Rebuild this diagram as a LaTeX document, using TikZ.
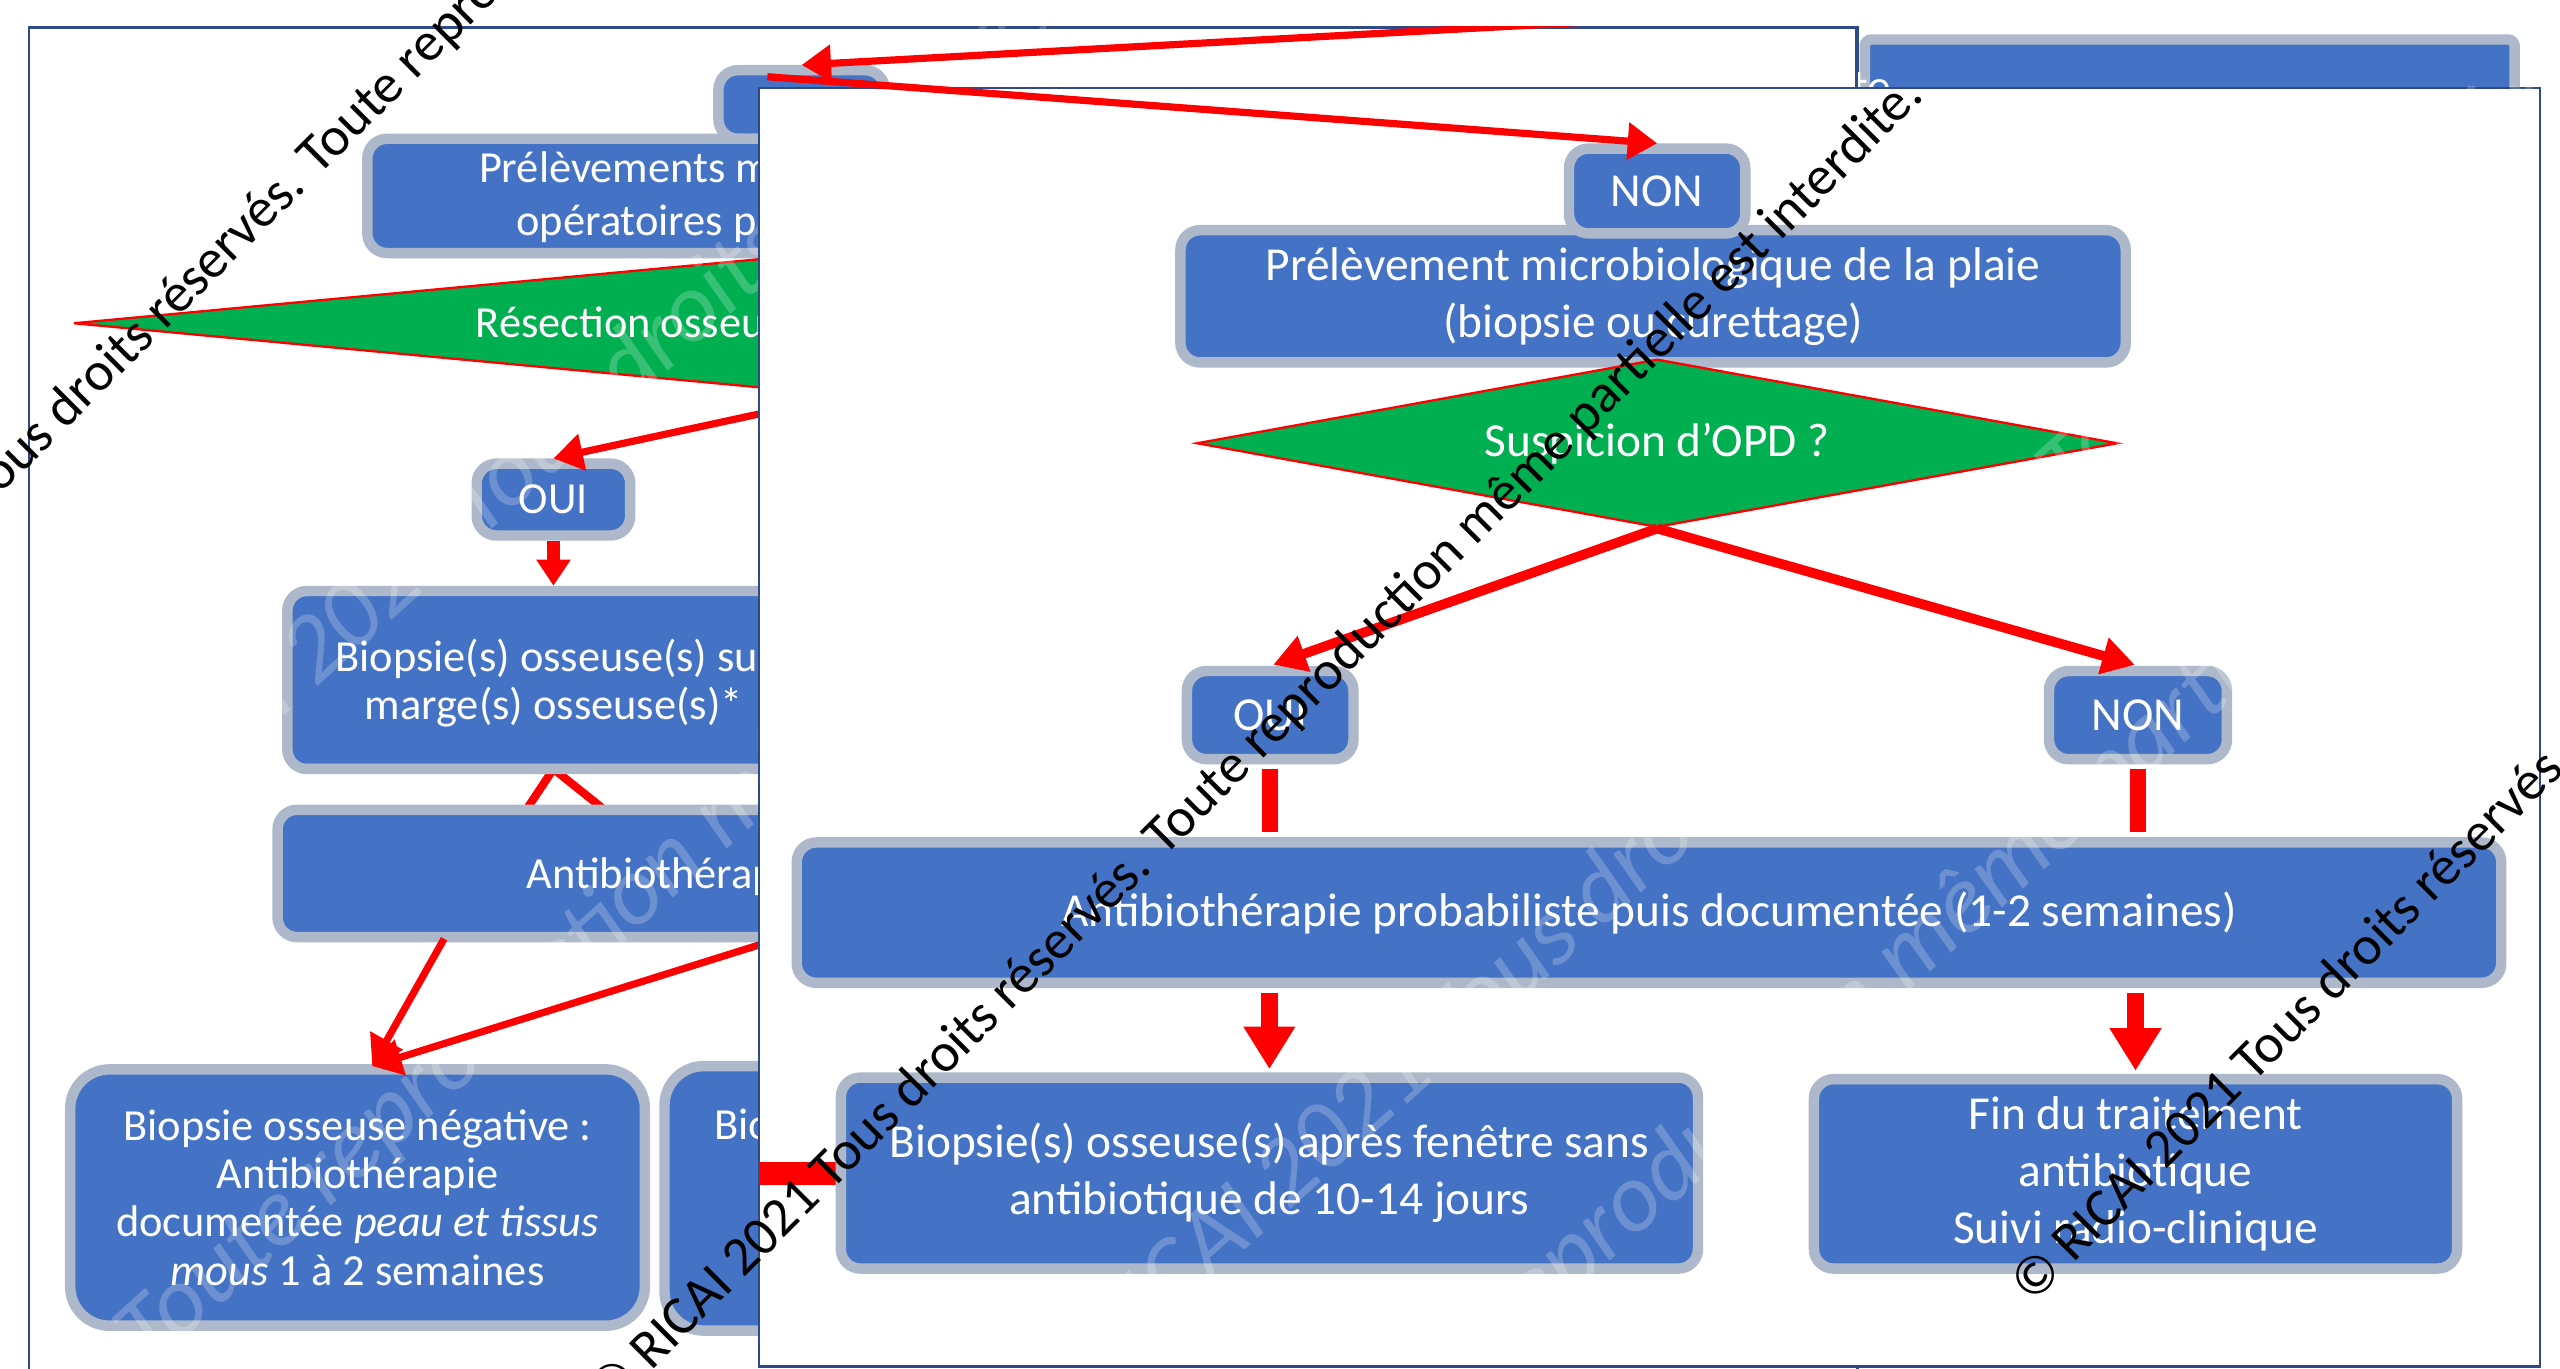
\documentclass[tikz,border=0pt]{standalone}
\usepackage{fontspec}
\setmainfont{Carlito}
\usetikzlibrary{shapes.geometric,arrows.meta}
\definecolor{boxblue}{HTML}{4472C4}
\definecolor{boxgray}{HTML}{ADB9CA}
\definecolor{dgreen}{HTML}{00B050}
\definecolor{panelline}{HTML}{2F4A8A}
\newcommand\FntFront{\fontsize{14.5}{17.4}\selectfont}
\newcommand\FntBack{\fontsize{13.6}{14.8}\selectfont}
\newcommand\FntMark{\fontsize{16.8}{20}\selectfont}
\newcommand\FntFaint{\fontsize{30}{36}\selectfont}
\newcommand\WMtext{© RICAI 2021 Tous droits réservés. Toute reproduction même partielle est interdite.}
\tikzset{
  box/.style={draw=boxgray, fill=boxblue, line width=3.2pt, rounded corners=6pt, text=white, inner sep=0pt, align=center, font=\FntFront},
  bigbox/.style={box, rounded corners=12pt},
  dec/.style={diamond, draw=red, line width=0.7pt, fill=dgreen, text=white, inner sep=0pt, font=\FntFront},
  frag/.style={text=white, font=\FntBack, anchor=base west, inner sep=0pt},
  panel/.style={draw=panelline, line width=0.8pt, fill=white, inner sep=0pt, anchor=north west},
  thinarr/.style={draw=red, line width=2.2pt, -{Triangle[length=9pt,width=11pt]}},
  midarr/.style={draw=red, line width=3pt, -{Triangle[length=10pt,width=11pt]}, shorten >=1pt},
  shortarr/.style={draw=red, line width=4pt, -{Triangle[length=8pt,width=10pt]}},
  plainline/.style={draw=red, line width=5pt, shorten <=1.5pt, shorten >=1.5pt},
  redbar/.style={draw=red, line width=7pt},
  thickarr/.style={draw=red, line width=5pt, -{Triangle[length=13pt,width=15pt]}, shorten <=1.5pt, shorten >=1pt},
  wm/.style={text=black, font=\FntMark, rotate=45, anchor=west, inner sep=0pt},
  faint/.style={text=white, text opacity=0.22, font=\FntFaint\itshape, rotate=42, anchor=west, inner sep=0pt},
}
\begin{document}
\begin{tikzpicture}[x=0.5pt,y=-0.5pt]
\useasboundingbox (0,0) rectangle (1568,838);
\clip (0,0) rectangle (1568,838);
\fill[white] (0,0) rectangle (1568,838);

% ---------- back slide ----------
\node[panel, minimum width=560pt, minimum height=420pt] (backpanel) at (17,16) {};
\node[box, rounded corners=2pt, anchor=north west, minimum width=199pt, minimum height=40pt] (tr) at (1139,21) {};
\node[text=white, font=\FntFront, anchor=base west, inner sep=0pt] (trt) at (1134,63) {te};
\draw[draw=panelline, line width=0.8pt] (1137,16) -- (1137,60);

\begin{scope}
\clip (17,16) rectangle (1137,850);
\node[box, minimum width=51pt, minimum height=21pt] (b0) at (491,64) {};
\node[box, minimum width=375pt, minimum height=35pt] (b1) at (600,120) {};
\node[frag] (b1a) at (293,112) {Prélèvements mi};
\node[frag] (b1b) at (316,144) {opératoires pr};
\node[dec, aspect=10.6, minimum width=532pt, minimum height=50pt] (d1) at (577,198) {};
\node[frag] (d1t) at (291,207) {Résection osseus};
\coordinate (cl) at (323,495);
\coordinate (cr) at (369,495);
\coordinate (cap) at (339,471);
\draw[red, line width=2.5pt] (cl) -- (cap) -- (cr);
\node[box, font=\FntBack, minimum width=47pt, minimum height=22pt] (oui1) at (339,306) {OUI};
\node[box, minimum width=424pt, minimum height=54.5pt] (biop1) at (600,416.5) {};
\node[frag] (biop1a) at (205,411) {Biopsie(s) osseuse(s) sur};
\node[frag] (biop1b) at (223,441) {marge(s) osseuse(s)*};
\node[box, minimum width=430pt, minimum height=39pt] (anti1) at (600,535) {};
\node[frag] (anti1t) at (322,544) {Antibiothérapi};
\node[bigbox, font=\FntBack, minimum width=176pt, minimum height=78.5pt] (neg) at (219,733.5)
  {Biopsie osseuse négative :\\ Antibiothérapie\\ documentée \textit{peau et tissus}\\ \textit{mous} 1 à 2 semaines};
\node[bigbox, minimum width=193pt, minimum height=81pt] (bio3) at (600,734) {};
\node[frag] (bio3t) at (437,698) {Biop};
\node[faint] (bf1) at (29,548) {\WMtext};
\node[faint] (bf2) at (-552,1397) {\WMtext};
\coordinate (a1s) at (1000,12);
\draw[thinarr] (a1s) -- (b0.north);
\coordinate (d1o) at (560,233);
\draw[thinarr] (d1o) -- (oui1.north);
\draw[shortarr] (oui1.south) -- (oui1.south |- biop1.north);
\coordinate (l1s) at (272,575);
\coordinate (l2s) at (560,549);
\coordinate (negin) at (228,653);
\draw[thinarr] (l1s) -- (negin);
\draw[thinarr] (l2s) -- (negin);
\end{scope}

% ---------- front slide ----------
\node[panel, minimum width=545.5pt, minimum height=391.5pt] (front) at (464,53) {};
\coordinate (barL) at (465,719);
\coordinate (barR) at (516,719);
\draw[redbar] (barL) -- (barR);
\node[box, minimum width=289.5pt, minimum height=40.5pt] (prel) at (1012.5,181.5)
  {Prélèvement microbiologique de la plaie\\(biopsie ou curettage)};
\node[box, minimum width=54pt, minimum height=26pt] (non1) at (1015,117) {NON};
\node[dec, aspect=5.48, minimum width=282pt, minimum height=51.5pt] (d2) at (1015,271.5) {Suspicion d’OPD ?};
\node[box, minimum width=51pt, minimum height=27pt] (oui2) at (778,438) {OUI};
\node[box, minimum width=54.5pt, minimum height=27pt] (non2) at (1309.5,438) {NON};
\node[box, minimum width=522pt, minimum height=43pt] (anti2) at (1010,559)
  {Antibiothérapie probabiliste puis documentée (1-2 semaines)};
\node[box, minimum width=262.5pt, minimum height=58.5pt] (biop2) at (777.5,718.5)
  {Biopsie(s) osseuse(s) après fenêtre sans\\antibiotique de 10-14 jours};
\node[box, minimum width=197pt, minimum height=58pt] (fin) at (1308,719)
  {Fin du traitement\\antibiotique\\Suivi radio-clinique};
\begin{scope}
\clip (464,53) rectangle (1555,836);
\node[faint] (ff1) at (625,868) {\WMtext};
\node[faint] (ff2) at (172,1484) {\WMtext};
\end{scope}

\draw[midarr] (d2.south) -- (oui2.north);
\draw[midarr] (d2.south) -- (non2.north);
\draw[plainline] (oui2.south) -- (oui2.south |- anti2.north);
\draw[plainline] (non2.south) -- (non2.south |- anti2.north);
\draw[thickarr] (anti2.south -| biop2.north) -- (biop2.north);
\draw[thickarr] (anti2.south -| fin.north) -- (fin.north);

\coordinate (a2s) at (470,47);
\draw[thinarr] (a2s) -- (non1.north);

% ---------- watermarks ----------
\node[wm] (wm1) at (-151,442) {\WMtext};
\node[wm] (wm2) at (367,859) {\WMtext};
\node[wm] (wm3) at (1238,793) {\WMtext};
\end{tikzpicture}
\end{document}
